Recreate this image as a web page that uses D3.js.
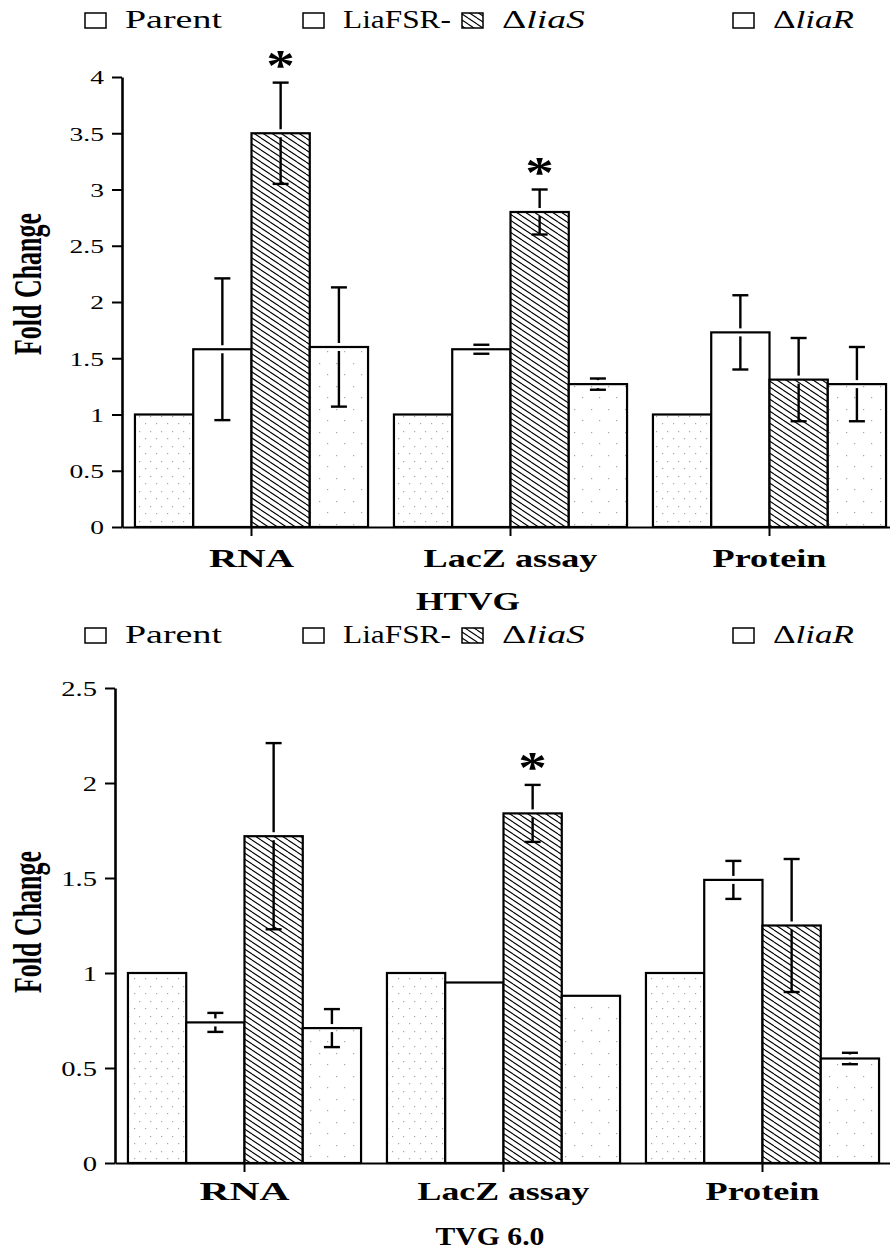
<!DOCTYPE html>
<html lang="en">
<head>
<meta charset="UTF-8">
<title>Fold Change - HTVG / TVG 6.0</title>
<script src="https://d3js.org/d3.v7.min.js"></script>
<style>
  body { margin: 0; background: #fff; }
  svg { display: block; font-family: 'Liberation Serif', 'Times New Roman', serif; }
</style>
</head>
<body>
<div id="chart"></div>
<script>
// categories and strains
const categories = ["RNA", "LacZ assay", "Protein"];
const strains = ["Parent", "LiaFSR-", "ΔliaS", "ΔliaR"];

// HTVG panel, one value per category (RNA, LacZ assay, Protein)
const htvgParent = [1, 1, 1];
const htvgLiaFSR = [1.58, 1.58, 1.73];
const htvgLiaS = [3.5, 2.8, 1.31];
const htvgLiaR = [1.6, 1.27, 1.27];
const htvgParentErr = [0, 0, 0];
const htvgLiaFSRErr = [0.63, 0.04, 0.33];
const htvgLiaSErr = [0.45, 0.2, 0.37];
const htvgLiaRErr = [0.53, 0.05, 0.33];
const htvgSignificant = [[], [], ["RNA", "LacZ assay"], []];

// TVG 6.0 panel
const tvgParent = [1, 1, 1];
const tvgLiaFSR = [0.74, 0.95, 1.49];
const tvgLiaS = [1.72, 1.84, 1.25];
const tvgLiaR = [0.71, 0.88, 0.55];
const tvgParentErr = [0, 0, 0];
const tvgLiaFSRErr = [0.05, 0, 0.1];
const tvgLiaSErr = [0.49, 0.15, 0.35];
const tvgLiaRErr = [0.1, 0, 0.03];
const tvgSignificant = [[], [], ["LacZ assay"], []];

const W = 890, H = 1252;
const svg = d3.select("#chart").append("svg")
    .attr("width", W)
    .attr("height", H);
const defs = svg.append("defs");

// diagonal hatch for ΔliaS
const hw = 9, hh = 6;
const hatch = defs.append("pattern")
    .attr("id", "hatch")
    .attr("patternUnits", "userSpaceOnUse")
    .attr("width", hw).attr("height", hh);
hatch.append("rect").attr("width", hw).attr("height", hh).attr("fill", "#fff");
hatch.append("path")
    .attr("d", `M0,${-hh}L${hw},0M0,0L${hw},${hh}M0,${hh}L${hw},${2 * hh}`)
    .attr("stroke", "#000")
    .attr("stroke-width", 1.1);

// faint speckle fills
function speckle(id, w, h, dots) {
    const p = defs.append("pattern")
        .attr("id", id)
        .attr("patternUnits", "userSpaceOnUse")
        .attr("width", w).attr("height", h);
    p.append("rect").attr("width", w).attr("height", h).attr("fill", "#fff");
    dots.forEach(([x, y]) => {
        p.append("rect").attr("x", x).attr("y", y)
            .attr("width", 1.2).attr("height", 1.2)
            .attr("fill", "#a8a8a8");
    });
}
speckle("speckleA", 11, 15, [[2, 3], [7, 11]]);
speckle("speckleB", 17, 23, [[4, 6], [13, 18]]);

const fills = ["url(#speckleA)", "#fff", "url(#hatch)", "url(#speckleB)"];

// stretch a text element horizontally so it spans a given width
function fitText(sel, x, y, width, sy = 1) {
    const w = sel.node().getComputedTextLength();
    sel.attr("transform", `translate(${x},${y}) scale(${width / w},${sy})`);
}

function buildRows(means, errs, sig) {
    const rows = [];
    categories.forEach((c, i) => {
        strains.forEach((s, j) => {
            rows.push({ cat: c, strain: s, idx: j, value: means[j][i], err: errs[j][i], sig: sig[j].includes(c) });
        });
    });
    return rows;
}

function drawPanel(cfg) {
    const g = svg.append("g");
    const y = d3.scaleLinear().domain([0, cfg.max]).range([cfg.y0, cfg.y1]);
    const x0 = d3.scaleBand().domain(categories)
        .range([cfg.axisX, cfg.axisX + 777])
        .paddingInner(0.1)
        .paddingOuter(0.05);
    const x1 = d3.scaleBand().domain(strains).range([0, x0.bandwidth()]);

    // bars
    g.selectAll("rect.bar")
        .data(cfg.rows)
        .join("rect")
        .attr("class", "bar")
        .attr("x", d => x0(d.cat) + x1(d.strain))
        .attr("y", d => y(d.value))
        .attr("width", x1.bandwidth())
        .attr("height", d => y(0) - y(d.value))
        .attr("fill", d => fills[d.idx])
        .attr("stroke", "#000")
        .attr("stroke-width", 2.2);

    // error bars (line broken where it crosses the bar top)
    const withErr = cfg.rows.filter(d => d.err > 0);
    withErr.forEach(d => {
        const xc = x0(d.cat) + x1(d.strain) + x1.bandwidth() / 2;
        const hi = y(d.value + d.err), lo = y(d.value - d.err), top = y(d.value);
        const eg = g.append("g").attr("stroke", "#000").attr("stroke-width", 2.4);
        if (top - 4 > hi) eg.append("line").attr("x1", xc).attr("x2", xc).attr("y1", hi).attr("y2", top - 4);
        if (top + 4 < lo) eg.append("line").attr("x1", xc).attr("x2", xc).attr("y1", top + 4).attr("y2", lo);
        eg.append("line").attr("x1", xc - 8).attr("x2", xc + 8).attr("y1", hi).attr("y2", hi);
        eg.append("line").attr("x1", xc - 8).attr("x2", xc + 8).attr("y1", lo).attr("y2", lo);
    });

    // asterisks
    cfg.rows.filter(d => d.sig).forEach(d => {
        const xc = x0(d.cat) + x1(d.strain) + x1.bandwidth() / 2;
        g.append("text")
            .attr("transform", `translate(${xc},${y(d.value + d.err) - 3}) scale(1.3,1)`)
            .attr("text-anchor", "middle")
            .attr("font-size", 44)
            .attr("font-weight", "bold")
            .text("*");
    });

    // y axis
    const yAxis = g.append("g")
        .attr("transform", `translate(${cfg.axisX},0)`)
        .call(d3.axisLeft(y)
            .tickValues(d3.range(0, cfg.max + 0.01, 0.5))
            .tickFormat(d => String(d))
            .tickSize(10)
            .tickSizeOuter(0));
    yAxis.select(".domain").attr("stroke-width", 2.6);
    yAxis.selectAll(".tick line").attr("stroke-width", 2);
    yAxis.selectAll(".tick text")
        .attr("font-family", "'Liberation Serif', serif")
        .attr("font-size", cfg.tickFont)
        .attr("fill", "#000")
        .attr("x", -cfg.labelGap / cfg.tickSX)
        .attr("dy", "0.36em")
        .attr("transform", `scale(${cfg.tickSX},1)`);

    // x axis
    const xAxis = g.append("g")
        .attr("transform", `translate(0,${cfg.y0})`)
        .call(d3.axisBottom(x0).tickSize(9).tickSizeOuter(0).tickFormat(""));
    xAxis.select(".domain").attr("stroke-width", 2.2);
    xAxis.selectAll(".tick line").attr("stroke-width", 2);

    // category labels
    categories.forEach((c, i) => {
        const t = g.append("text")
            .attr("text-anchor", "middle")
            .attr("font-size", 26)
            .attr("font-weight", "bold")
            .text(c);
        fitText(t, x0(c) + x0.bandwidth() / 2, cfg.catY, cfg.catWidths[i]);
    });

    // panel title
    const title = g.append("text")
        .attr("text-anchor", "middle")
        .attr("font-size", 26)
        .attr("font-weight", "bold")
        .text(cfg.title);
    fitText(title, cfg.titleX, cfg.titleY, cfg.titleWidth);

    // y label
    const yl = g.append("text")
        .attr("text-anchor", "middle")
        .attr("font-size", 26)
        .attr("font-weight", "bold")
        .text("Fold Change");
    const ylw = yl.node().getComputedTextLength();
    yl.attr("transform", `translate(${cfg.yLabelX},${cfg.yLabelY}) rotate(-90) scale(${142 / ylw},1.5)`);

    // legend
    const legendX = [85, 303, 462, 733];
    const legendW = [97, 108, 83, 81];
    strains.forEach((s, i) => {
        g.append("rect")
            .attr("x", legendX[i]).attr("y", cfg.legendY)
            .attr("width", 21).attr("height", 15)
            .attr("fill", i === 2 ? "url(#hatch)" : "#fff")
            .attr("stroke", "#000")
            .attr("stroke-width", 1.5);
        const t = g.append("text").attr("font-size", 25);
        if (s.startsWith("Δ")) {
            t.append("tspan").text("Δ");
            t.append("tspan").attr("font-style", "italic").text(s.slice(1));
        } else {
            t.text(s);
        }
        fitText(t, legendX[i] + 40, cfg.legendY + 15, legendW[i]);
    });
}

drawPanel({
    rows: buildRows([htvgParent, htvgLiaFSR, htvgLiaS, htvgLiaR],
        [htvgParentErr, htvgLiaFSRErr, htvgLiaSErr, htvgLiaRErr], htvgSignificant),
    max: 4, y0: 527, y1: 77, axisX: 122,
    tickFont: 19, tickSX: 1.45, labelGap: 18,
    catY: 567, catWidths: [85, 174, 114],
    title: "HTVG", titleX: 468, titleY: 610, titleWidth: 104,
    yLabelX: 41, yLabelY: 284,
    legendY: 13
});

drawPanel({
    rows: buildRows([tvgParent, tvgLiaFSR, tvgLiaS, tvgLiaR],
        [tvgParentErr, tvgLiaFSRErr, tvgLiaSErr, tvgLiaRErr], tvgSignificant),
    max: 2.5, y0: 1163, y1: 688, axisX: 115,
    tickFont: 22, tickSX: 1.3, labelGap: 18,
    catY: 1200, catWidths: [90, 172, 114],
    title: "TVG 6.0", titleX: 490, titleY: 1245, titleWidth: 109,
    yLabelX: 41, yLabelY: 922,
    legendY: 628
});
</script>
</body>
</html>
